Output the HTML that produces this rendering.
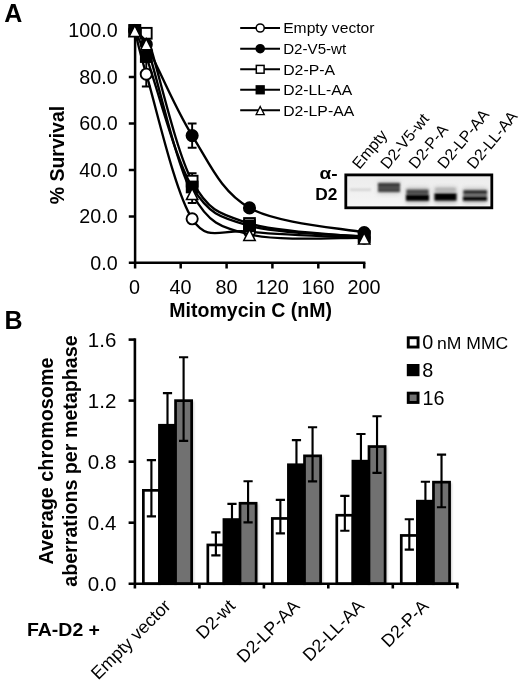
<!DOCTYPE html>
<html><head><meta charset="utf-8"><title>Figure</title><style>html,body{margin:0;padding:0;background:#fff}svg{display:block;will-change:transform;transform:translateZ(0)}</style></head><body>
<svg width="520" height="686" viewBox="0 0 520 686" font-family="'Liberation Sans', Arial, Helvetica, sans-serif" fill="#000">
<defs><filter id="b1" x="-20%" y="-50%" width="140%" height="200%"><feGaussianBlur stdDeviation="1.3"/></filter><filter id="b3" x="-30%" y="-60%" width="160%" height="220%"><feGaussianBlur stdDeviation="2.2"/></filter><filter id="b2" x="-20%" y="-50%" width="140%" height="200%"><feGaussianBlur stdDeviation="0.7"/></filter><filter id="sh" x="-30%" y="-10%" width="160%" height="120%"><feGaussianBlur stdDeviation="1.2"/></filter>
<linearGradient id="bg" x1="0" y1="0" x2="0" y2="1"><stop offset="0" stop-color="#ececec"/><stop offset="1" stop-color="#f5f5f5"/></linearGradient></defs>
<text x="4.2" y="21.9" font-size="25" font-weight="bold">A</text>
<text x="4.4" y="328.8" font-size="25" font-weight="bold">B</text>
<g stroke="#000" stroke-width="2.5" fill="none" stroke-linecap="butt">
<line x1="135.1" y1="29.3" x2="135.1" y2="268.5"/>
<line x1="128.8" y1="262.8" x2="365.4" y2="262.8"/>
<line x1="128.8" y1="216.5" x2="135.1" y2="216.5"/>
<line x1="128.8" y1="170.0" x2="135.1" y2="170.0"/>
<line x1="128.8" y1="123.5" x2="135.1" y2="123.5"/>
<line x1="128.8" y1="77.0" x2="135.1" y2="77.0"/>
<line x1="128.8" y1="30.5" x2="135.1" y2="30.5"/>
<line x1="180.7" y1="262.8" x2="180.7" y2="268.5"/>
<line x1="226.6" y1="262.8" x2="226.6" y2="268.5"/>
<line x1="272.4" y1="262.8" x2="272.4" y2="268.5"/>
<line x1="318.3" y1="262.8" x2="318.3" y2="268.5"/>
<line x1="364.2" y1="262.8" x2="364.2" y2="268.5"/>
</g>
<g font-size="19.7" text-anchor="end">
<text x="117.6" y="269.8">0.0</text>
<text x="117.6" y="223.3">20.0</text>
<text x="117.6" y="176.8">40.0</text>
<text x="117.6" y="130.3">60.0</text>
<text x="117.6" y="83.8">80.0</text>
<text x="117.6" y="37.3">100.0</text>
</g>
<g font-size="19.8" text-anchor="middle">
<text x="134.6" y="293.9">0</text>
<text x="180.5" y="293.9">40</text>
<text x="226.4" y="293.9">80</text>
<text x="272.2" y="293.9">120</text>
<text x="318.1" y="293.9">160</text>
<text x="364.0" y="293.9">200</text>
</g>
<text x="169.3" y="317.4" font-size="19.4" font-weight="bold" textLength="162.7" lengthAdjust="spacingAndGlyphs">Mitomycin C (nM)</text>
<text transform="translate(64.3,204.3) rotate(-90)" font-size="19.5" font-weight="bold" textLength="98.5" lengthAdjust="spacingAndGlyphs">% Survival</text>
<g>
<path d="M134.80 30.50 C136.71 37.78 139.69 52.60 146.27 74.21 C155.83 105.60 174.94 192.59 192.15 218.82 C208.26 243.39 220.82 228.40 249.50 231.61 C278.18 234.83 345.08 237.04 364.20 238.12" fill="none" stroke="#000" stroke-width="2.35"/>
<path d="M146.27 61.89 V86.53 M141.87 61.89 H150.67 M141.87 86.53 H150.67" stroke="#000" stroke-width="1.9" fill="none"/>
<circle cx="134.80" cy="30.50" r="5.60" fill="#fff" stroke="#000" stroke-width="1.90"/>
<circle cx="146.27" cy="74.21" r="5.60" fill="#fff" stroke="#000" stroke-width="1.90"/>
<circle cx="192.15" cy="218.82" r="5.60" fill="#fff" stroke="#000" stroke-width="1.90"/>
<circle cx="249.50" cy="231.61" r="5.60" fill="#fff" stroke="#000" stroke-width="1.90"/>
<circle cx="364.20" cy="238.12" r="5.60" fill="#fff" stroke="#000" stroke-width="1.90"/>
</g>
<g>
<path d="M134.80 30.50 C136.71 32.82 141.94 36.52 146.27 44.45 C155.83 61.96 174.94 108.35 192.15 135.59 C209.36 162.83 220.82 191.74 249.50 207.90 C278.18 224.06 345.08 228.44 364.20 232.54" fill="none" stroke="#000" stroke-width="2.35"/>
<path d="M192.15 123.50 V147.68 M187.75 123.50 H196.55 M187.75 147.68 H196.55" stroke="#000" stroke-width="1.9" fill="none"/>
<circle cx="134.80" cy="30.50" r="5.60" fill="#000" stroke="#000" stroke-width="1.90"/>
<circle cx="146.27" cy="44.45" r="5.60" fill="#000" stroke="#000" stroke-width="1.90"/>
<circle cx="192.15" cy="135.59" r="5.60" fill="#000" stroke="#000" stroke-width="1.90"/>
<circle cx="249.50" cy="207.90" r="5.60" fill="#000" stroke="#000" stroke-width="1.90"/>
<circle cx="364.20" cy="232.54" r="5.60" fill="#000" stroke="#000" stroke-width="1.90"/>
</g>
<g>
<path d="M134.80 30.50 C136.71 30.96 144.17 27.77 146.27 33.29 C155.83 58.40 174.94 149.46 192.15 181.16 C209.15 212.48 220.82 214.17 249.50 223.47 C278.18 232.78 345.08 234.71 364.20 236.96" fill="none" stroke="#000" stroke-width="2.35"/>
<path d="M192.15 173.25 V189.06 M187.75 173.25 H196.55 M187.75 189.06 H196.55" stroke="#000" stroke-width="1.9" fill="none"/>
<rect x="129.40" y="25.10" width="10.80" height="10.80" fill="#fff" stroke="#000" stroke-width="1.90"/>
<rect x="140.87" y="27.89" width="10.80" height="10.80" fill="#fff" stroke="#000" stroke-width="1.90"/>
<rect x="186.75" y="175.76" width="10.80" height="10.80" fill="#fff" stroke="#000" stroke-width="1.90"/>
<rect x="244.10" y="218.07" width="10.80" height="10.80" fill="#fff" stroke="#000" stroke-width="1.90"/>
<rect x="358.80" y="231.56" width="10.80" height="10.80" fill="#fff" stroke="#000" stroke-width="1.90"/>
</g>
<g>
<path d="M134.80 30.50 C136.71 34.84 141.37 43.18 146.27 56.54 C155.83 82.62 174.94 158.76 192.15 186.97 C209.36 215.18 220.82 217.55 249.50 225.80 C278.18 234.05 345.08 234.71 364.20 236.50" fill="none" stroke="#000" stroke-width="2.35"/>
<rect x="129.40" y="25.10" width="10.80" height="10.80" fill="#000" stroke="#000" stroke-width="1.90"/>
<rect x="140.87" y="51.14" width="10.80" height="10.80" fill="#000" stroke="#000" stroke-width="1.90"/>
<rect x="186.75" y="181.57" width="10.80" height="10.80" fill="#000" stroke="#000" stroke-width="1.90"/>
<rect x="244.10" y="220.40" width="10.80" height="10.80" fill="#000" stroke="#000" stroke-width="1.90"/>
<rect x="358.80" y="231.09" width="10.80" height="10.80" fill="#000" stroke="#000" stroke-width="1.90"/>
</g>
<g>
<path d="M134.80 30.50 C136.71 32.71 143.36 35.49 146.27 43.75 C155.83 70.92 174.94 161.71 192.15 193.48 C208.92 224.46 220.82 227.00 249.50 234.40 C278.18 241.80 345.08 237.31 364.20 237.89" fill="none" stroke="#000" stroke-width="2.35"/>
<path d="M192.15 183.95 V203.02 M187.75 183.95 H196.55 M187.75 203.02 H196.55" stroke="#000" stroke-width="1.9" fill="none"/>
<polygon points="134.80,25.40 140.50,36.60 129.10,36.60" fill="#fff" stroke="#000" stroke-width="1.55" stroke-linejoin="miter"/>
<polygon points="146.27,38.65 151.97,49.85 140.57,49.85" fill="#fff" stroke="#000" stroke-width="1.55" stroke-linejoin="miter"/>
<polygon points="192.15,188.38 197.85,199.58 186.45,199.58" fill="#fff" stroke="#000" stroke-width="1.55" stroke-linejoin="miter"/>
<polygon points="249.50,229.30 255.20,240.50 243.80,240.50" fill="#fff" stroke="#000" stroke-width="1.55" stroke-linejoin="miter"/>
<polygon points="364.20,232.79 369.90,243.99 358.50,243.99" fill="#fff" stroke="#000" stroke-width="1.55" stroke-linejoin="miter"/>
</g>
<line x1="240.2" y1="28.0" x2="280.0" y2="28.0" stroke="#000" stroke-width="2.1"/>
<circle cx="260.20" cy="28.00" r="4.03" fill="#fff" stroke="#000" stroke-width="1.50"/>
<line x1="240.2" y1="48.7" x2="280.0" y2="48.7" stroke="#000" stroke-width="2.1"/>
<circle cx="260.20" cy="48.70" r="4.03" fill="#000" stroke="#000" stroke-width="1.50"/>
<line x1="240.2" y1="69.3" x2="280.0" y2="69.3" stroke="#000" stroke-width="2.1"/>
<rect x="256.31" y="65.41" width="7.78" height="7.78" fill="#fff" stroke="#000" stroke-width="1.50"/>
<line x1="240.2" y1="89.8" x2="280.0" y2="89.8" stroke="#000" stroke-width="2.1"/>
<rect x="256.31" y="85.91" width="7.78" height="7.78" fill="#000" stroke="#000" stroke-width="1.50"/>
<line x1="240.2" y1="110.2" x2="280.0" y2="110.2" stroke="#000" stroke-width="2.1"/>
<polygon points="260.20,106.53 264.30,114.59 256.10,114.59" fill="#fff" stroke="#000" stroke-width="1.30" stroke-linejoin="miter"/>
<text x="283.2" y="33.3" font-size="15.3" textLength="91.3" lengthAdjust="spacingAndGlyphs">Empty vector</text>
<text x="283.2" y="54.0" font-size="15.3" textLength="63.0" lengthAdjust="spacingAndGlyphs">D2-V5-wt</text>
<text x="283.2" y="74.6" font-size="15.3" textLength="51.8" lengthAdjust="spacingAndGlyphs">D2-P-A</text>
<text x="283.2" y="95.1" font-size="15.3" textLength="69.0" lengthAdjust="spacingAndGlyphs">D2-LL-AA</text>
<text x="283.2" y="115.5" font-size="15.3" textLength="71.0" lengthAdjust="spacingAndGlyphs">D2-LP-AA</text>
<rect x="345.8" y="174.9" width="146" height="32.9" fill="url(#bg)" stroke="#000" stroke-width="2.8"/>
<g filter="url(#b3)" opacity="0.55">
<rect x="378" y="181.5" width="22" height="12.5" fill="#aaa"/>
<rect x="406" y="187.5" width="23" height="16" fill="#999"/>
<rect x="434.5" y="187" width="22" height="16.5" fill="#999"/>
<rect x="463" y="188" width="24" height="15.5" fill="#999"/>
</g>
<g filter="url(#b1)">
<rect x="350" y="188.7" width="21" height="2" fill="#cdcdcd"/>
<rect x="378" y="183" width="22" height="9" fill="#505050"/>
<rect x="378" y="183" width="22" height="3" fill="#383838"/>
<rect x="378.5" y="189.6" width="21" height="2.4" fill="#404040"/>
<rect x="406.5" y="189.6" width="22" height="4.6" fill="#484848"/>
<rect x="406" y="194.6" width="23" height="6.2" fill="#000"/>
<rect x="435.5" y="188" width="20" height="3.5" fill="#b4b4b4"/>
<rect x="434.5" y="193.2" width="22" height="7.4" fill="#000"/>
<rect x="463.5" y="190.4" width="23.5" height="10" fill="#8c8c8c"/>
<rect x="463.5" y="190.4" width="23.5" height="3.8" fill="#2c2c2c"/>
<rect x="463" y="196.2" width="24" height="4.6" fill="#101010"/>
</g>
<g font-size="15.8">
<text transform="translate(359.5,170.0) rotate(-50.5)">Empty</text>
<text transform="translate(387.8,170.0) rotate(-50.5)">D2-V5-wt</text>
<text transform="translate(415.9,169.8) rotate(-50.5)">D2-P-A</text>
<text transform="translate(444.8,169.8) rotate(-50.5)">D2-LP-AA</text>
<text transform="translate(474.2,170.1) rotate(-50.5)">D2-LL-AA</text>
</g>
<text transform="translate(337.6,178.6) scale(1.18,1)" font-size="16.2" font-weight="bold" text-anchor="end">α-</text>
<text transform="translate(337.4,199.8) scale(1.07,1)" font-size="16.2" font-weight="bold" text-anchor="end">D2</text>
<g filter="url(#sh)" opacity="0.35">
<rect x="145.55" y="491.00" width="16.10" height="92.70" fill="#666"/>
<rect x="161.65" y="425.90" width="16.10" height="157.80" fill="#666"/>
<rect x="177.75" y="401.30" width="16.10" height="182.40" fill="#666"/>
<rect x="210.03" y="545.60" width="16.10" height="38.10" fill="#666"/>
<rect x="226.13" y="520.20" width="16.10" height="63.50" fill="#666"/>
<rect x="242.23" y="503.90" width="16.10" height="79.80" fill="#666"/>
<rect x="274.51" y="519.10" width="16.10" height="64.60" fill="#666"/>
<rect x="290.61" y="465.40" width="16.10" height="118.30" fill="#666"/>
<rect x="306.71" y="456.50" width="16.10" height="127.20" fill="#666"/>
<rect x="338.99" y="515.90" width="16.10" height="67.80" fill="#666"/>
<rect x="355.09" y="461.80" width="16.10" height="121.90" fill="#666"/>
<rect x="371.19" y="447.20" width="16.10" height="136.50" fill="#666"/>
<rect x="403.47" y="536.10" width="16.10" height="47.60" fill="#666"/>
<rect x="419.57" y="501.80" width="16.10" height="81.90" fill="#666"/>
<rect x="435.67" y="482.80" width="16.10" height="100.90" fill="#666"/>
</g>
<rect x="143.35" y="490.35" width="16.10" height="93.35" fill="#fff" stroke="#000" stroke-width="2.7"/>
<rect x="159.45" y="425.25" width="16.10" height="158.45" fill="#000" stroke="#000" stroke-width="2.7"/>
<rect x="175.55" y="400.65" width="16.10" height="183.05" fill="#717171" stroke="#000" stroke-width="2.7"/>
<path d="M151.40 460.10 V516.40 M146.80 460.10 H156.00 M146.80 516.40 H156.00" stroke="#000" stroke-width="2.15" fill="none"/>
<path d="M167.50 393.10 V455.00 M162.90 393.10 H172.10 M162.90 455.00 H172.10" stroke="#000" stroke-width="2.15" fill="none"/>
<path d="M183.60 357.20 V440.90 M179.00 357.20 H188.20 M179.00 440.90 H188.20" stroke="#000" stroke-width="2.15" fill="none"/>
<rect x="207.83" y="544.95" width="16.10" height="38.75" fill="#fff" stroke="#000" stroke-width="2.7"/>
<rect x="223.93" y="519.55" width="16.10" height="64.15" fill="#000" stroke="#000" stroke-width="2.7"/>
<rect x="240.03" y="503.25" width="16.10" height="80.45" fill="#717171" stroke="#000" stroke-width="2.7"/>
<path d="M215.88 532.30 V555.40 M211.28 532.30 H220.48 M211.28 555.40 H220.48" stroke="#000" stroke-width="2.15" fill="none"/>
<path d="M231.98 503.90 V532.80 M227.38 503.90 H236.58 M227.38 532.80 H236.58" stroke="#000" stroke-width="2.15" fill="none"/>
<path d="M248.08 481.20 V522.40 M243.48 481.20 H252.68 M243.48 522.40 H252.68" stroke="#000" stroke-width="2.15" fill="none"/>
<rect x="272.31" y="518.45" width="16.10" height="65.25" fill="#fff" stroke="#000" stroke-width="2.7"/>
<rect x="288.41" y="464.75" width="16.10" height="118.95" fill="#000" stroke="#000" stroke-width="2.7"/>
<rect x="304.51" y="455.85" width="16.10" height="127.85" fill="#717171" stroke="#000" stroke-width="2.7"/>
<path d="M280.36 499.90 V533.40 M275.76 499.90 H284.96 M275.76 533.40 H284.96" stroke="#000" stroke-width="2.15" fill="none"/>
<path d="M296.46 440.10 V487.00 M291.86 440.10 H301.06 M291.86 487.00 H301.06" stroke="#000" stroke-width="2.15" fill="none"/>
<path d="M312.56 427.20 V481.40 M307.96 427.20 H317.16 M307.96 481.40 H317.16" stroke="#000" stroke-width="2.15" fill="none"/>
<rect x="336.79" y="515.25" width="16.10" height="68.45" fill="#fff" stroke="#000" stroke-width="2.7"/>
<rect x="352.89" y="461.15" width="16.10" height="122.55" fill="#000" stroke="#000" stroke-width="2.7"/>
<rect x="368.99" y="446.55" width="16.10" height="137.15" fill="#717171" stroke="#000" stroke-width="2.7"/>
<path d="M344.84 495.80 V530.70 M340.24 495.80 H349.44 M340.24 530.70 H349.44" stroke="#000" stroke-width="2.15" fill="none"/>
<path d="M360.94 434.00 V485.90 M356.34 434.00 H365.54 M356.34 485.90 H365.54" stroke="#000" stroke-width="2.15" fill="none"/>
<path d="M377.04 416.20 V472.90 M372.44 416.20 H381.64 M372.44 472.90 H381.64" stroke="#000" stroke-width="2.15" fill="none"/>
<rect x="401.27" y="535.45" width="16.10" height="48.25" fill="#fff" stroke="#000" stroke-width="2.7"/>
<rect x="417.37" y="501.15" width="16.10" height="82.55" fill="#000" stroke="#000" stroke-width="2.7"/>
<rect x="433.47" y="482.15" width="16.10" height="101.55" fill="#717171" stroke="#000" stroke-width="2.7"/>
<path d="M409.32 519.20 V549.60 M404.72 519.20 H413.92 M404.72 549.60 H413.92" stroke="#000" stroke-width="2.15" fill="none"/>
<path d="M425.42 481.70 V518.20 M420.82 481.70 H430.02 M420.82 518.20 H430.02" stroke="#000" stroke-width="2.15" fill="none"/>
<path d="M441.52 454.60 V507.20 M436.92 454.60 H446.12 M436.92 507.20 H446.12" stroke="#000" stroke-width="2.15" fill="none"/>
<g stroke="#000" stroke-width="2.6" fill="none">
<line x1="134.9" y1="338.3" x2="134.9" y2="588.5"/>
<line x1="128.6" y1="583.7" x2="458.6" y2="583.7"/>
<line x1="128.6" y1="522.7" x2="134.9" y2="522.7"/>
<line x1="128.6" y1="461.7" x2="134.9" y2="461.7"/>
<line x1="128.6" y1="400.6" x2="134.9" y2="400.6"/>
<line x1="128.6" y1="339.6" x2="134.9" y2="339.6"/>
<line x1="199.4" y1="583.7" x2="199.4" y2="588.5"/>
<line x1="263.9" y1="583.7" x2="263.9" y2="588.5"/>
<line x1="328.3" y1="583.7" x2="328.3" y2="588.5"/>
<line x1="392.8" y1="583.7" x2="392.8" y2="588.5"/>
<line x1="457.3" y1="583.7" x2="457.3" y2="588.5"/>
</g>
<g font-size="20.5" text-anchor="end">
<text x="116.3" y="591.0">0.0</text>
<text x="116.3" y="530.0">0.4</text>
<text x="116.3" y="469.0">0.8</text>
<text x="116.3" y="407.9">1.2</text>
<text x="116.3" y="346.9">1.6</text>
</g>
<text transform="translate(53.2,564.5) rotate(-90)" font-size="20.3" font-weight="bold" textLength="207" lengthAdjust="spacingAndGlyphs">Average chromosome</text>
<text transform="translate(76.5,586.8) rotate(-90)" font-size="20.3" font-weight="bold" textLength="251.5" lengthAdjust="spacingAndGlyphs">aberrations per metaphase</text>
<g font-size="17.8" text-anchor="end">
<text transform="translate(171.7,607.1) rotate(-45)">Empty vector</text>
<text transform="translate(236.2,607.1) rotate(-45)">D2-wt</text>
<text transform="translate(300.7,607.1) rotate(-45)">D2-LP-AA</text>
<text transform="translate(365.2,607.1) rotate(-45)">D2-LL-AA</text>
<text transform="translate(429.7,607.1) rotate(-45)">D2-P-A</text>
</g>
<text x="27" y="636.2" font-size="17.5" font-weight="bold" textLength="73" lengthAdjust="spacingAndGlyphs">FA-D2 +</text>
<rect x="408.25" y="337.75" width="9.8" height="9.3" fill="#fff" stroke="#000" stroke-width="2.9"/>
<text x="422.2" y="349.2" font-size="19.8">0</text>
<rect x="408.25" y="365.45" width="9.8" height="9.3" fill="#000" stroke="#000" stroke-width="2.9"/>
<text x="422.2" y="376.8" font-size="19.8">8</text>
<rect x="408.25" y="393.15" width="9.8" height="9.3" fill="#717171" stroke="#000" stroke-width="2.9"/>
<text x="422.6" y="404.5" font-size="19.8">16</text>
<text x="437" y="349.2" font-size="15.6" textLength="71.3" lengthAdjust="spacingAndGlyphs">nM MMC</text>
</svg>
</body></html>
